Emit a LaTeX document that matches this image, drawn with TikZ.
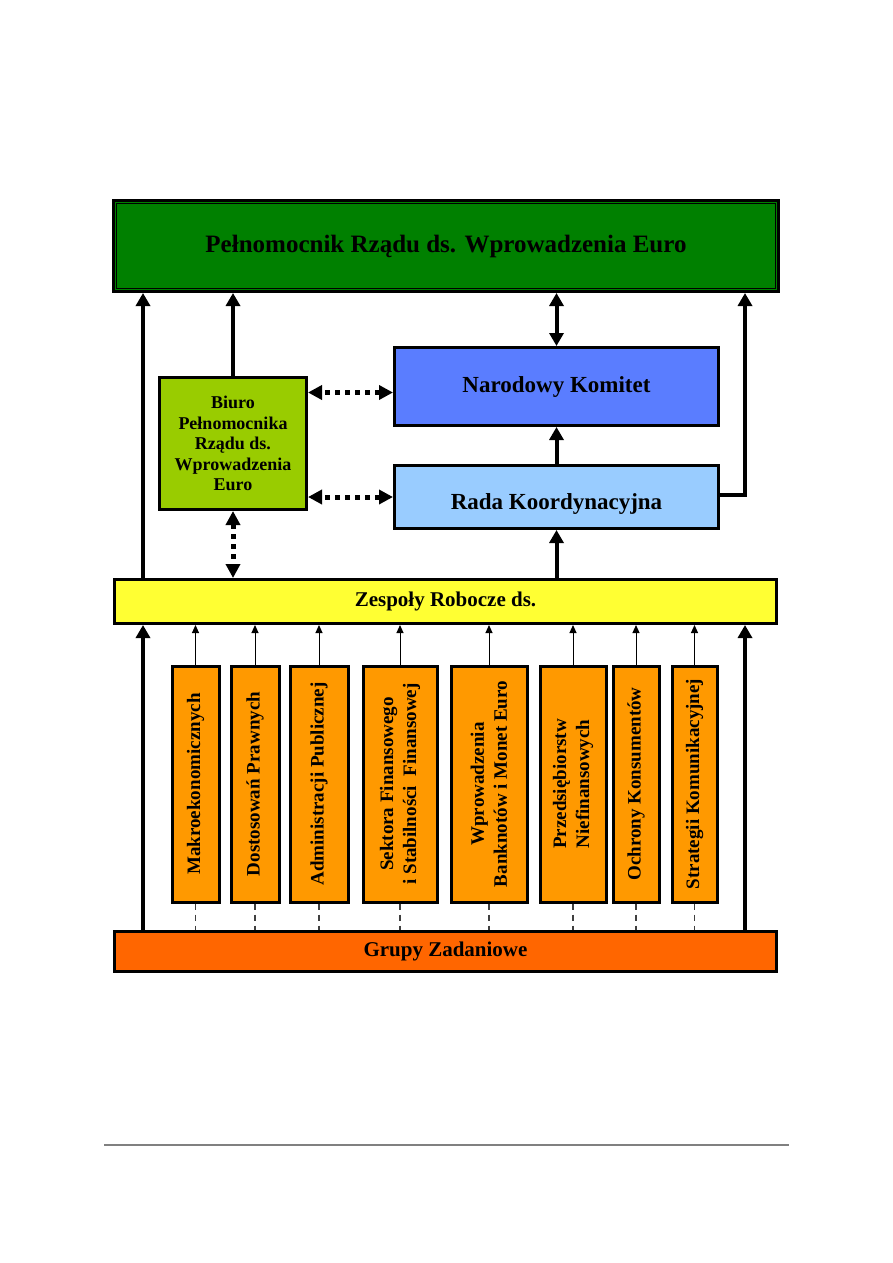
\documentclass[tikz,border=0pt]{standalone}
\usepackage{fontspec}
\setmainfont{Liberation Serif}
\usepackage{tikz}
\usetikzlibrary{arrows.meta,positioning,calc}

\definecolor{pelnogreen}{RGB}{0,128,0}
\definecolor{biurogreen}{RGB}{153,204,0}
\definecolor{komitetblue}{RGB}{90,125,255}
\definecolor{radablue}{RGB}{153,204,255}
\definecolor{zespolyyellow}{RGB}{255,255,51}
\definecolor{grupaorange}{RGB}{255,153,0}
\definecolor{zadanorange}{RGB}{255,102,0}

\tikzset{
  box/.style={draw,line width=3pt,anchor=north west,inner sep=0pt,font=\bfseries},
  grupa/.style={draw,line width=3pt,fill=grupaorange,rotate=90,inner sep=0pt,
    minimum width=236pt,align=center,font=\bfseries\fontsize{19}{23}\selectfont},
  thickarrow/.style={line width=4pt,-{Triangle[width=14pt,length=13pt]}},
  dotarrow/.style={line width=5pt,dash pattern=on 5pt off 5pt,
    {Triangle[width=14pt,length=14pt]}-{Triangle[width=14pt,length=14pt]}},
  thinarrow/.style={line width=1pt,-{Triangle[width=7pt,length=8pt]}},
  thindash/.style={line width=1.3pt,dash pattern=on 6pt off 5pt,black!75}
}

\begin{document}
\begin{tikzpicture}[x=1pt,y=-1pt]
  \useasboundingbox (0,0) rectangle (893,1263);

  \node[box,fill=pelnogreen,minimum width=665pt,minimum height=91pt,
    font=\bfseries\fontsize{25}{30}\selectfont] (pelnomocnik) at (112,199)
    {Pełnomocnik Rządu ds. Wprowadzenia Euro};
  \draw[line width=1.3pt] ([shift={(4.5,4.5)}]pelnomocnik.north west)
    rectangle ([shift={(-4.5,-4.5)}]pelnomocnik.south east);

  \node[box,fill=biurogreen,minimum width=147pt,minimum height=132pt,align=center,
    font=\bfseries\fontsize{18}{20.5}\selectfont] (biuro) at (158,376)
    {Biuro\\Pełnomocnika\\Rządu ds.\\Wprowadzenia\\Euro};
  \node[box,fill=komitetblue,minimum width=324pt,minimum height=78pt,
    font=\bfseries\fontsize{23}{27}\selectfont] (komitet) at (393,346)
    {Narodowy Komitet};
  \node[box,fill=radablue,minimum width=324pt,minimum height=63pt,text height=30pt,
    font=\bfseries\fontsize{23}{27}\selectfont] (rada) at (393,464)
    {Rada Koordynacyjna};
  \node[box,fill=zespolyyellow,minimum width=662pt,minimum height=44pt,
    font=\bfseries\fontsize{21}{25}\selectfont] (zespoly) at (113,578)
    {Zespoły Robocze ds.};
  \node[box,fill=zadanorange,minimum width=662pt,minimum height=40pt,
    font=\bfseries\fontsize{21}{25}\selectfont] (zadaniowe) at (113,930)
    {Grupy Zadaniowe};

  \node[grupa,minimum height=47pt] (makro) at (195.5,784) {Makroekonomicznych};
  \node[grupa,minimum height=48pt] (prawne) at (255,784) {Dostosowań Prawnych};
  \node[grupa,minimum height=58pt] (admin) at (319,784) {Administracji Publicznej};
  \node[grupa,minimum height=74pt] (sektor) at (400,784)
    {Sektora Finansowego\\i Stabilności~ Finansowej};
  \node[grupa,minimum height=76pt] (banknoty) at (489,784)
    {Wprowadzenia\\Banknotów i Monet Euro};
  \node[grupa,minimum height=66pt] (przeds) at (573,784)
    {Przedsiębiorstw\\Niefinansowych};
  \node[grupa,minimum height=46pt] (konsum) at (636,784) {Ochrony Konsumentów};
  \node[grupa,minimum height=45pt] (komunik) at (694.5,784) {Strategii Komunikacyjnej};

  \coordinate (lewa) at (143,0);
  \coordinate (prawa) at (745,0);

  \draw[thickarrow] (lewa |- zespoly.north) -- (lewa |- pelnomocnik.south);
  \draw[thickarrow] (biuro.north) -- (biuro.north |- pelnomocnik.south);
  \draw[thickarrow,{Triangle[width=14pt,length=13pt]}-{Triangle[width=14pt,length=13pt]}]
    (komitet.north) -- (komitet.north |- pelnomocnik.south);
  \draw[thickarrow] ([yshift=2pt]rada.east) -| (prawa |- pelnomocnik.south);
  \draw[thickarrow] (rada.north) -- (komitet.south);
  \draw[thickarrow] (rada.south |- zespoly.north) -- (rada.south);
  \draw[dotarrow] ([yshift=-6pt]komitet.west) -- ([yshift=-6pt]komitet.west -| biuro.east);
  \draw[dotarrow] (rada.west) -- (rada.west -| biuro.east);
  \draw[dotarrow] (biuro.south) -- (biuro.south |- zespoly.north);
  \draw[thickarrow] (lewa |- zadaniowe.north) -- (lewa |- zespoly.south);
  \draw[thickarrow] (prawa |- zadaniowe.north) -- (prawa |- zespoly.south);

  \draw[thinarrow] (makro.east) -- (makro.east |- zespoly.south);
  \draw[thinarrow] (prawne.east) -- (prawne.east |- zespoly.south);
  \draw[thinarrow] (admin.east) -- (admin.east |- zespoly.south);
  \draw[thinarrow] (sektor.east) -- (sektor.east |- zespoly.south);
  \draw[thinarrow] (banknoty.east) -- (banknoty.east |- zespoly.south);
  \draw[thinarrow] (przeds.east) -- (przeds.east |- zespoly.south);
  \draw[thinarrow] (konsum.east) -- (konsum.east |- zespoly.south);
  \draw[thinarrow] (komunik.east) -- (komunik.east |- zespoly.south);

  \draw[thindash] (makro.west) -- (makro.west |- zadaniowe.north);
  \draw[thindash] (prawne.west) -- (prawne.west |- zadaniowe.north);
  \draw[thindash] (admin.west) -- (admin.west |- zadaniowe.north);
  \draw[thindash] (sektor.west) -- (sektor.west |- zadaniowe.north);
  \draw[thindash] (banknoty.west) -- (banknoty.west |- zadaniowe.north);
  \draw[thindash] (przeds.west) -- (przeds.west |- zadaniowe.north);
  \draw[thindash] (konsum.west) -- (konsum.west |- zadaniowe.north);
  \draw[thindash] (komunik.west) -- (komunik.west |- zadaniowe.north);

  \draw[gray,line width=1.2pt] (104,1145) -- (789,1145);
\end{tikzpicture}
\end{document}
